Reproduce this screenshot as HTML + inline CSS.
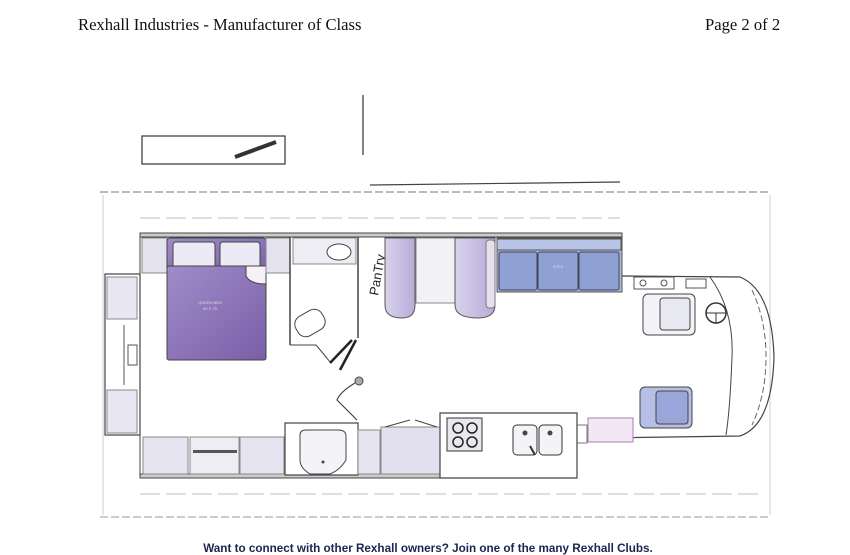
<!DOCTYPE html>
<html><head><meta charset="utf-8"><style>
html,body{margin:0;padding:0;background:#fff;width:850px;height:555px;overflow:hidden}
svg{display:block}
</style></head><body>
<svg width="850" height="555" viewBox="0 0 850 555" xmlns="http://www.w3.org/2000/svg">
<defs>
<linearGradient id="bed" x1="0" y1="0" x2="1" y2="1"><stop offset="0" stop-color="#a08cc8"/><stop offset="1" stop-color="#7a5fa8"/></linearGradient>
<linearGradient id="cab" x1="0" y1="0" x2="1" y2="0"><stop offset="0" stop-color="#d8d2ec"/><stop offset="1" stop-color="#b8acd8"/></linearGradient>
</defs>
<text x="78" y="30" font-family="Liberation Serif,serif" font-size="16.6" fill="#111">Rexhall Industries - Manufacturer of Class</text>
<text x="705" y="30" font-family="Liberation Serif,serif" font-size="16.6" fill="#111">Page 2 of 2</text>
<text x="428" y="552" text-anchor="middle" font-family="Liberation Sans,sans-serif" font-size="11.7" font-weight="bold" fill="#1a2550">Want to connect with other Rexhall owners? Join one of the many Rexhall Clubs.</text>

<rect x="142" y="136" width="143" height="28" fill="#fff" stroke="#333" stroke-width="1.2"/>
<line x1="235" y1="157" x2="276" y2="142" stroke="#333" stroke-width="4"/>
<line x1="363" y1="95" x2="363" y2="155" stroke="#333" stroke-width="1.2"/>
<line x1="370" y1="185" x2="620" y2="182" stroke="#444" stroke-width="1.2"/>
<line x1="100" y1="192" x2="770" y2="192" stroke="#777" stroke-width="1" stroke-dasharray="8 3"/>
<line x1="100" y1="517" x2="770" y2="517" stroke="#999" stroke-width="1" stroke-dasharray="8 3"/>
<line x1="103" y1="195" x2="103" y2="515" stroke="#ccd" stroke-width="1"/>
<line x1="770" y1="195" x2="770" y2="515" stroke="#ccd" stroke-width="1"/>
<line x1="140" y1="218" x2="620" y2="218" stroke="#bbc" stroke-width="1" stroke-dasharray="20 6"/>
<line x1="140" y1="494" x2="760" y2="494" stroke="#bbc" stroke-width="1" stroke-dasharray="20 6"/>

<rect x="140" y="233" width="482" height="4" fill="#ccc" stroke="#444" stroke-width="1"/>
<rect x="140" y="474" width="437" height="4" fill="#ccc" stroke="#444" stroke-width="1"/>
<rect x="105" y="274" width="35" height="161" fill="#fff" stroke="#444" stroke-width="1.2"/>
<line x1="140" y1="237" x2="140" y2="274" stroke="#444"/><line x1="140" y1="435" x2="140" y2="474" stroke="#444"/>
<rect x="107" y="277" width="30" height="42" fill="#e8e6f2" stroke="#888"/>
<rect x="107" y="390" width="30" height="43" fill="#e8e6f2" stroke="#888"/>
<rect x="128" y="345" width="9" height="20" fill="#fff" stroke="#555"/>
<line x1="124" y1="325" x2="124" y2="385" stroke="#555"/>

<rect x="142" y="238" width="25" height="35" fill="#e4e2ef" stroke="#888"/>
<rect x="167" y="238" width="99" height="34" rx="3" fill="url(#bed)" stroke="#444"/>
<rect x="173" y="242" width="42" height="26" rx="3" fill="#eceaf4" stroke="#444"/>
<rect x="220" y="242" width="40" height="26" rx="3" fill="#eceaf4" stroke="#444"/>
<rect x="167" y="266" width="99" height="94" rx="2" fill="url(#bed)" stroke="#444"/>
<path d="M246 266 L266 266 L266 284 Q250 284 246 276 Z" fill="#f4f2f8" stroke="#444"/>
<text x="210" y="304" text-anchor="middle" font-family="Liberation Sans,sans-serif" font-size="4" fill="#ddd">QUEEN BED</text>
<text x="210" y="310" text-anchor="middle" font-family="Liberation Sans,sans-serif" font-size="4" fill="#ddd">60 X 75</text>
<rect x="266" y="238" width="24" height="35" fill="#e4e2ef" stroke="#888"/>

<line x1="290" y1="237" x2="290" y2="345" stroke="#444" stroke-width="1.5"/>
<line x1="358" y1="237" x2="358" y2="338" stroke="#444" stroke-width="1.5"/>
<rect x="293" y="238" width="63" height="26" fill="#eeedf4" stroke="#888"/>
<ellipse cx="339" cy="252" rx="12" ry="8" fill="#fff" stroke="#444"/>
<path d="M290 345 L316 345 Q322 352 330 362" fill="none" stroke="#444"/>
<rect x="295" y="312" width="30" height="22" rx="9" transform="rotate(-30 310 323)" fill="#fff" stroke="#444"/>
<line x1="330" y1="363" x2="352" y2="340" stroke="#222" stroke-width="2.5"/>
<line x1="340" y1="370" x2="356" y2="340" stroke="#222" stroke-width="2.5"/>
<circle cx="359" cy="381" r="4" fill="#aaa" stroke="#444"/>
<path d="M355 383 Q340 392 337 400 L357 420" fill="none" stroke="#444" stroke-width="1.2"/>

<text x="0" y="0" transform="translate(378 296) rotate(-80)" font-family="Liberation Sans,sans-serif" font-size="13" fill="#222">PanTry</text>
<path d="M385 238 L415 238 L415 305 Q415 318 402 318 Q385 318 385 305 Z" fill="url(#cab)" stroke="#555"/>
<rect x="416" y="238" width="39" height="65" fill="#f2f1f6" stroke="#888"/>
<path d="M455 238 L495 238 L495 305 Q495 318 478 318 Q455 318 455 305 Z" fill="url(#cab)" stroke="#555"/>
<rect x="486" y="240" width="9" height="68" rx="3" fill="#e4e0f0" stroke="#777"/>

<rect x="497" y="238" width="125" height="54" fill="#aab5de" stroke="#555"/>
<rect x="497" y="239" width="124" height="11" fill="#b9c3e6" stroke="#555"/>
<rect x="499" y="252" width="38" height="38" rx="2" fill="#8fa0d2" stroke="#445"/>
<rect x="538" y="252" width="40" height="38" rx="2" fill="#8fa0d2" stroke="#445"/>
<rect x="579" y="252" width="40" height="38" rx="2" fill="#8fa0d2" stroke="#445"/>
<text x="558" y="268" text-anchor="middle" font-family="Liberation Sans,sans-serif" font-size="4" fill="#dde">SOFA</text>

<path d="M622 276 L740 277 Q772 290 774 357 Q772 425 740 436 L603 438" fill="none" stroke="#444" stroke-width="1.2"/>
<path d="M710 277 Q734 310 732 357 Q730 410 726 435" fill="none" stroke="#444" stroke-width="1"/>
<path d="M752 290 Q766 320 766 357 Q766 395 752 425" fill="none" stroke="#666" stroke-width="1" stroke-dasharray="6 3"/>
<rect x="634" y="277" width="40" height="12" fill="#fff" stroke="#555"/>
<circle cx="643" cy="283" r="3" fill="none" stroke="#555"/><circle cx="664" cy="283" r="3" fill="none" stroke="#555"/>
<rect x="686" y="279" width="20" height="9" fill="#fff" stroke="#555"/>
<rect x="643" y="294" width="52" height="41" rx="5" fill="#f3f3f8" stroke="#444"/>
<rect x="660" y="298" width="30" height="32" rx="3" fill="#e8e8f0" stroke="#444"/>
<circle cx="716" cy="313" r="10" fill="#fff" stroke="#333" stroke-width="1.5"/>
<line x1="706" y1="313" x2="726" y2="313" stroke="#333"/><line x1="716" y1="313" x2="716" y2="323" stroke="#333"/>
<rect x="640" y="387" width="52" height="41" rx="5" fill="#b7bfe4" stroke="#444"/>
<rect x="656" y="391" width="32" height="33" rx="3" fill="#9aa6da" stroke="#444"/>
<rect x="588" y="418" width="45" height="24" fill="#f2e8f4" stroke="#b07ab8"/>
<rect x="577" y="425" width="10" height="18" fill="#fff" stroke="#777"/>

<rect x="143" y="437" width="45" height="37" fill="#e6e4f0" stroke="#888"/>
<rect x="190" y="437" width="49" height="37" fill="#eeedf4" stroke="#888"/>
<rect x="193" y="450" width="44" height="3" fill="#555"/>
<rect x="240" y="437" width="44" height="37" fill="#e6e4f0" stroke="#888"/>
<rect x="285" y="423" width="73" height="52" fill="#fff" stroke="#444" stroke-width="1.2"/>
<path d="M300 435 Q300 430 306 430 L338 430 Q346 430 346 436 L346 460 Q340 470 330 474 L310 474 Q300 468 300 460 Z" fill="#f4f4f8" stroke="#444"/>
<circle cx="323" cy="462" r="1.5" fill="#444"/>
<rect x="358" y="430" width="22" height="44" fill="#e6e4f0" stroke="#888"/>
<rect x="381" y="427" width="59" height="47" fill="#e2e0ee" stroke="#888"/>
<line x1="385" y1="427" x2="410" y2="420" stroke="#444"/><line x1="415" y1="420" x2="437" y2="427" stroke="#444"/>

<path d="M440 413 L577 413 L577 478 L440 478 Z" fill="#fff" stroke="#444" stroke-width="1.2"/>
<rect x="447" y="418" width="35" height="33" fill="#e8e8ee" stroke="#333"/>
<circle cx="458" cy="428" r="5" fill="none" stroke="#222" stroke-width="1.5"/>
<circle cx="472" cy="428" r="5" fill="none" stroke="#222" stroke-width="1.5"/>
<circle cx="458" cy="442" r="5" fill="none" stroke="#222" stroke-width="1.5"/>
<circle cx="472" cy="442" r="5" fill="none" stroke="#222" stroke-width="1.5"/>
<rect x="513" y="425" width="24" height="30" rx="4" fill="#f4f4f8" stroke="#333"/>
<rect x="539" y="425" width="23" height="30" rx="4" fill="#f4f4f8" stroke="#333"/>
<circle cx="525" cy="433" r="2.5" fill="#444"/><circle cx="550" cy="433" r="2.5" fill="#444"/>
<line x1="530" y1="446" x2="535" y2="455" stroke="#333" stroke-width="2"/>
</svg>
</body></html>
